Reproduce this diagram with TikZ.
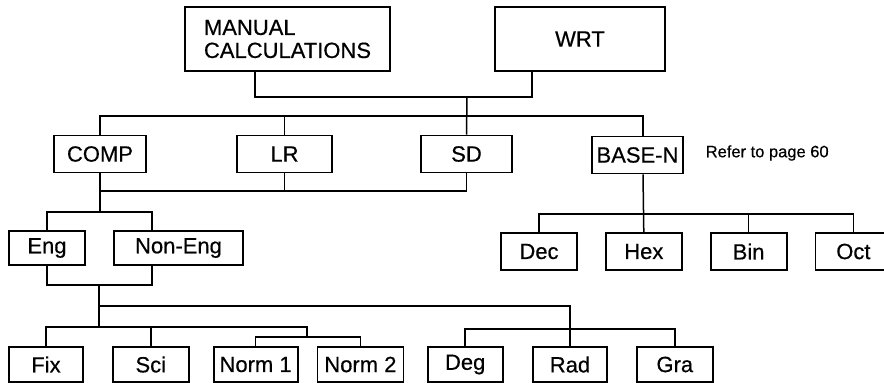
\documentclass[tikz,border=0pt]{standalone}
\usepackage{fontspec}
\setmainfont{Liberation Sans}[FakeBold=0.5]
\usepackage{tikz}
\usetikzlibrary{calc,positioning}

\begin{document}
\begin{tikzpicture}[
		x=1pt,
		y=-1pt,
		node distance=104.8pt,
		line width=1.5pt,
		box/.style={draw, line width=1.8pt, inner sep=0pt, minimum height=37pt,
			font=\fontsize{22}{23}\selectfont},
		low/.style={box, minimum height=35pt}
	  ]
	  \useasboundingbox (0,0) rectangle (884,383);

	  \node[box, minimum width=205pt, minimum height=64pt, align=left] (manual) at (287.5,39) {MANUAL\\CALCULATIONS};
	  \node[box, minimum width=170pt, minimum height=64pt] (wrt) at (580,39) {WRT};

	  \node[box, minimum width=92pt] (comp) at (100,154) {COMP};
	  \node[box, minimum width=95pt] (lr) at (284.5,154) {LR};
	  \node[box, minimum width=91pt] (sd) at (466.5,154) {SD};
	  \node[box, minimum width=91pt] (basen) at (637.5,155) {BASE-N};
	  \node[anchor=west, inner sep=0pt, font=\fontsize{16.5}{18}\selectfont] (refer) at (705,153) {Refer to page 60};

	  \node[box, minimum width=76pt, minimum height=34pt] (eng) at (47,248) {Eng};
	  \node[box, minimum width=129pt, minimum height=34pt] (noneng) at (178.5,248) {Non-Eng};

	  \node[box, minimum width=76pt] (dec) at (539,251.5) {Dec};
	  \node[box, minimum width=76pt] (hex) [right of=dec] {Hex};
	  \node[box, minimum width=76pt] (bin) [right of=hex] {Bin};
	  \node[box, minimum width=76pt] (oct) [right of=bin] {Oct};

	  \node[low, minimum width=74pt] (fix) at (46,364.5) {Fix};
	  \node[low, minimum width=76pt] (sci) [right of=fix] {Sci};
	  \node[low, minimum width=84pt] (norm1) [right of=sci] {Norm 1};
	  \node[low, minimum width=86pt] (norm2) [right of=norm1] {Norm 2};
	  \node[low, minimum width=75pt] (deg) [right of=norm2] {Deg};
	  \node[low, minimum width=74pt] (rad) [right of=deg] {Rad};
	  \node[low, minimum width=76pt] (gra) [right of=rad] {Gra};

	  \coordinate (join) at (467,97);
	  \coordinate (modebus) at (643,116);
	  \coordinate (databus) at (467,191);
	  \coordinate (engbus) at (100,212);
	  \coordinate (basebus) at (643,214);
	  \coordinate (dispjoin) at (99,285);
	  \coordinate (angbus) at (99,306);
	  \coordinate (fixbus) at (307,327);
	  \coordinate (normbus) at (307,337);
	  \coordinate (degbus) at (570,329);

	  \draw ([xshift=-32.5pt]manual.south) |- (join) -| ([xshift=-48pt]wrt.south);
	  \draw (join) -- (sd.north);
	  \draw (comp.north) |- (modebus) -- (modebus |- basen.north);
	  \draw (lr.north) -- (lr.north |- modebus);

	  \draw (comp.south |- databus) -| (sd.south);
	  \draw (lr.south) -- (lr.south |- databus);
	  \draw (comp.south) -- (engbus);
	  \draw (eng.north) |- (engbus) -| ([xshift=-26.5pt]noneng.north);

	  \draw (basebus |- basen.south) -- (hex.north);
	  \draw (dec.north) |- (basebus) -| (oct.north);
	  \draw (bin.north) -- (bin.north |- basebus);

	  \draw (eng.south) |- (dispjoin) -| ([xshift=-26.5pt]noneng.south);
	  \draw (dispjoin) -- (dispjoin |- fixbus);
	  \draw (fix.north) |- (fixbus) -- (normbus);
	  \draw (sci.north) -- (sci.north |- fixbus);
	  \draw (norm1.north) |- (normbus) -| (norm2.north);
	  \draw (angbus) -| (rad.north);
	  \draw (deg.north) |- (degbus) -| (gra.north);
	\end{tikzpicture}
\end{document}
